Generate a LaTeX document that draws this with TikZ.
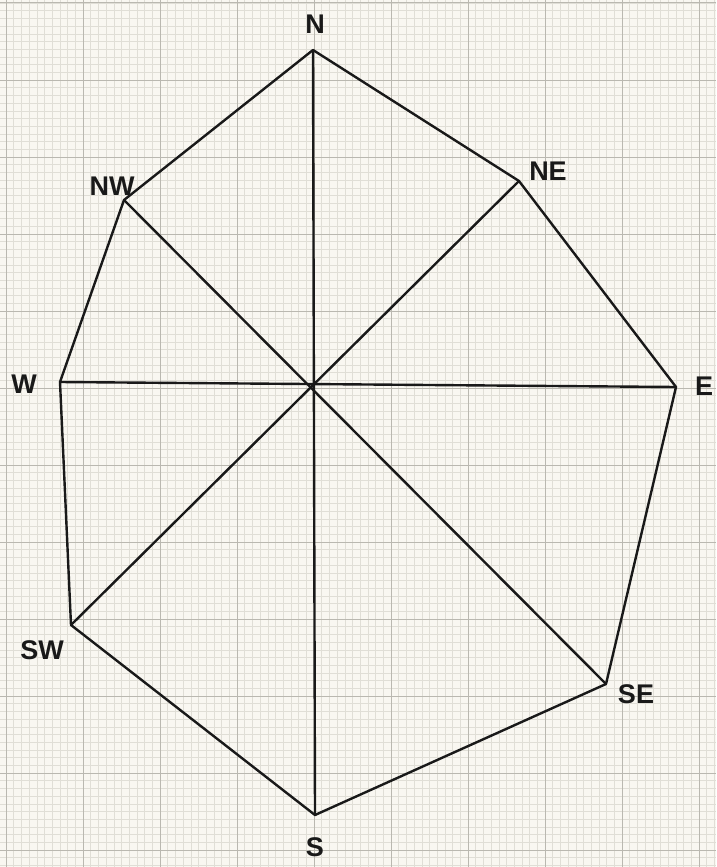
\documentclass[tikz,border=0pt]{standalone}
\usepackage{fontspec}
\setmainfont{Liberation Sans}
\definecolor{paper}{HTML}{F9F7F1}
\definecolor{minorgrid}{HTML}{E0DED6}
\definecolor{majorgrid}{HTML}{BAB8B0}
\tikzset{
  edge/.style={black!90, line width=2.4pt, line cap=round, line join=round},
  lbl/.style={font=\fontsize{27}{27}\selectfont\bfseries, text=black!90, inner sep=0pt},
}
\begin{document}
\begin{tikzpicture}[x=1pt,y=-1pt]
  \fill[paper] (0,0) rectangle (716,867);
  \useasboundingbox (0,0) rectangle (716,867);
  % graph paper
  \foreach \i in {-1,...,95} {
    \draw[minorgrid, line width=0.5pt] ({6+7.7*\i},0) -- ({6+7.7*\i},867);
  }
  \foreach \i in {-1,...,113} {
    \draw[minorgrid, line width=0.5pt] (0,{3+7.7*\i}) -- (716,{3+7.7*\i});
  }
  \foreach \i in {0,...,9} {
    \draw[majorgrid, line width=1pt] ({6+77*\i},0) -- ({6+77*\i},867);
  }
  \foreach \i in {0,...,11} {
    \draw[majorgrid, line width=1pt] (0,{3+77*\i}) -- (716,{3+77*\i});
  }
  % vertices
  \coordinate (N) at (313,50);
  \coordinate (NE) at (519,181);
  \coordinate (E) at (676,387);
  \coordinate (SE) at (606,684);
  \coordinate (S) at (315,815);
  \coordinate (SW) at (71,625);
  \coordinate (W) at (60,382);
  \coordinate (NW) at (124,200);
  \coordinate (C) at (313,383);
  % octagon
  \draw[edge] (N) -- (NE) -- (E) -- (SE) -- (S) -- (SW) -- (W) -- (NW) -- cycle;
  % spokes
  \draw[edge] (N) -- (S);
  \draw[edge] (W) -- (E);
  \draw[edge] (NE) -- (SW);
  \draw[edge] (NW) -- (SE);
  % labels
  \node[lbl] (lN) at (315,24) {N};
  \node[lbl] (lNE) at (548,171) {NE};
  \node[lbl] (lE) at (704,386) {E};
  \node[lbl] (lSE) at (636,694) {SE};
  \node[lbl] (lS) at (315,847) {S};
  \node[lbl] (lSW) at (42,650) {SW};
  \node[lbl] (lW) at (24,384) {W};
  \node[lbl] (lNW) at (112,186) {NW};
\end{tikzpicture}
\end{document}
